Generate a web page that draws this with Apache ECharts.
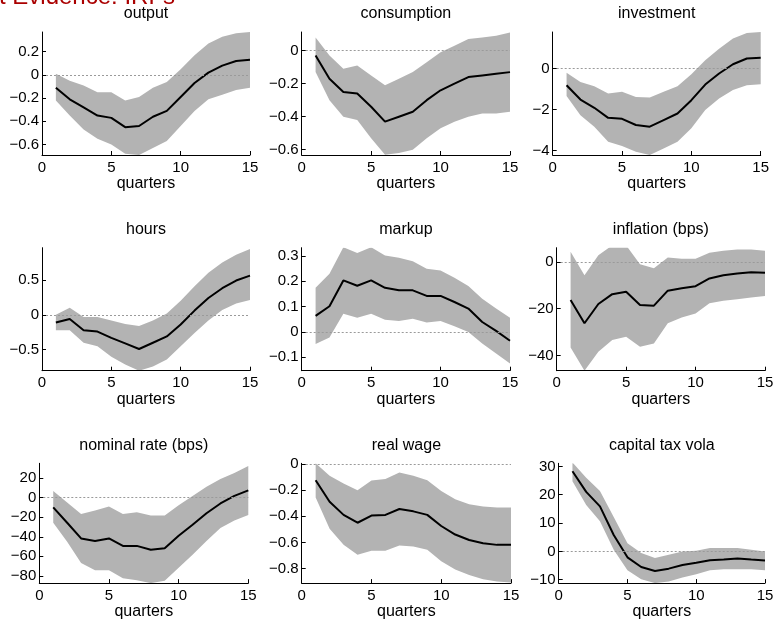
<!DOCTYPE html>
<html><head><meta charset="utf-8">
<script src="https://cdn.jsdelivr.net/npm/echarts@6/dist/echarts.min.js"></script>
<style>html,body{margin:0;padding:0;background:#fff}#c{width:777px;height:621px}</style>
</head><body><div id="c"></div>
<script>
const quarters = [1,2,3,4,5,6,7,8,9,10,11,12,13,14,15];

const outputMean = [-0.11,-0.21,-0.28,-0.35,-0.37,-0.45,-0.44,-0.36,-0.31,-0.19,-0.07,0.02,0.08,0.12,0.13];
const outputLo   = [-0.22,-0.35,-0.47,-0.55,-0.60,-0.68,-0.69,-0.63,-0.57,-0.44,-0.31,-0.21,-0.17,-0.13,-0.11];
const outputHi   = [0.01,-0.05,-0.09,-0.15,-0.15,-0.22,-0.19,-0.11,-0.06,0.05,0.17,0.27,0.33,0.36,0.37];

const consMean = [-0.03,-0.17,-0.25,-0.26,-0.34,-0.43,-0.40,-0.37,-0.30,-0.24,-0.20,-0.16,-0.15,-0.14,-0.13];
const consLo   = [-0.13,-0.30,-0.40,-0.42,-0.53,-0.63,-0.62,-0.60,-0.53,-0.47,-0.43,-0.40,-0.38,-0.38,-0.37];
const consHi   = [0.08,-0.03,-0.11,-0.09,-0.15,-0.21,-0.17,-0.13,-0.07,-0.01,0.03,0.07,0.08,0.09,0.11];

const invMean = [-0.81,-1.51,-1.91,-2.40,-2.45,-2.75,-2.83,-2.51,-2.19,-1.54,-0.78,-0.24,0.21,0.49,0.52];
const invLo   = [-1.34,-2.27,-2.83,-3.56,-3.77,-4.05,-4.21,-3.89,-3.56,-2.91,-2.02,-1.46,-1.05,-0.81,-0.76];
const invHi   = [-0.21,-0.65,-0.86,-1.21,-1.13,-1.38,-1.41,-1.13,-0.86,-0.28,0.40,0.97,1.46,1.73,1.78];

const hoursMean = [-0.11,-0.06,-0.22,-0.24,-0.33,-0.41,-0.49,-0.40,-0.31,-0.14,0.06,0.24,0.38,0.49,0.56];
const hoursLo   = [-0.22,-0.22,-0.40,-0.45,-0.60,-0.71,-0.80,-0.74,-0.64,-0.45,-0.26,-0.08,0.07,0.16,0.21];
const hoursHi   = [0.00,0.10,-0.03,-0.03,-0.08,-0.13,-0.16,-0.08,0.02,0.20,0.41,0.60,0.75,0.86,0.94];

const markupMean = [0.063,0.101,0.203,0.182,0.203,0.174,0.164,0.164,0.142,0.142,0.118,0.092,0.039,0.004,-0.035];
const markupLo   = [-0.048,-0.022,0.072,0.056,0.072,0.048,0.043,0.052,0.037,0.043,0.022,0.000,-0.046,-0.085,-0.125];
const markupHi   = [0.174,0.229,0.334,0.311,0.334,0.301,0.292,0.279,0.249,0.242,0.214,0.181,0.131,0.092,0.056];

const inflMean = [-16.3,-26.2,-18.0,-13.8,-12.8,-18.4,-18.7,-12.3,-11.3,-10.4,-7.1,-5.7,-5.0,-4.5,-4.7];
const inflLo   = [-36.5,-46.4,-38.3,-33.3,-31.9,-36.2,-34.8,-26.2,-23.7,-22.0,-17.7,-16.6,-16.0,-15.2,-14.6];
const inflHi   = [4.3,-5.7,2.8,7.0,7.0,-1.0,-2.8,1.8,1.3,1.3,3.8,4.7,5.2,5.2,4.7];

const rateMean = [-10.0,-25.7,-41.7,-44.3,-41.7,-49.3,-49.3,-53.3,-51.7,-39.0,-27.7,-16.0,-6.0,1.7,7.3];
const rateLo   = [-25.7,-45.0,-66.7,-74.3,-74.3,-82.3,-84.3,-87.3,-85.0,-71.7,-58.3,-44.3,-31.0,-23.3,-17.7];
const rateHi   = [6.7,-5.0,-16.7,-13.3,-9.0,-16.7,-15.0,-18.3,-18.3,-7.7,1.7,11.0,19.0,25.0,32.3];

const wageMean = [-0.125,-0.289,-0.389,-0.449,-0.394,-0.389,-0.344,-0.362,-0.389,-0.474,-0.539,-0.581,-0.606,-0.618,-0.618];
const wageLo   = [-0.257,-0.494,-0.618,-0.693,-0.663,-0.663,-0.623,-0.631,-0.656,-0.743,-0.806,-0.848,-0.880,-0.898,-0.905];
const wageHi   = [0.005,-0.090,-0.150,-0.200,-0.127,-0.115,-0.065,-0.090,-0.125,-0.207,-0.269,-0.307,-0.324,-0.332,-0.332];

const taxMean = [28.3,21.0,15.9,5.8,-2.1,-5.5,-6.9,-6.1,-4.8,-4.0,-3.1,-2.9,-2.5,-2.9,-3.2];
const taxLo   = [24.8,16.4,10.6,0.6,-6.7,-9.8,-11.2,-10.6,-9.2,-8.1,-6.7,-6.3,-6.3,-6.3,-6.7];
const taxHi   = [31.4,26.0,21.3,12.1,2.9,-0.6,-2.3,-1.2,0.0,0.2,1.2,1.2,1.2,0.6,0.0];

const panelTitles = ['output','consumption','investment','hours','markup','inflation (bps)','nominal rate (bps)','real wage','capital tax vola'];
const xTicks = [0,5,10,15];
const xLabel = 'quarters';
const yTickValues = [
  [-0.6,-0.4,-0.2,0,0.2],
  [-0.6,-0.4,-0.2,0],
  [-4,-2,0],
  [-0.5,0,0.5],
  [-0.1,0,0.1,0.2,0.3],
  [-40,-20,0],
  [-80,-60,-40,-20,0,20],
  [-0.8,-0.6,-0.4,-0.2,0],
  [-10,0,10,20,30]
];
const yLimits = [
  [-0.69,0.37],[-0.632,0.113],[-4.21,1.78],
  [-0.80,0.96],[-0.153,0.332],[-46.4,6.0],
  [-87.3,35],[-0.91,0.005],[-11.2,31.1]
];
const slideTitle = 't Evidence: IRFs';

const means = [outputMean,consMean,invMean,hoursMean,markupMean,inflMean,rateMean,wageMean,taxMean];
const lows  = [outputLo,consLo,invLo,hoursLo,markupLo,inflLo,rateLo,wageLo,taxLo];
const highs = [outputHi,consHi,invHi,hoursHi,markupHi,inflHi,rateHi,wageHi,taxHi];

// layout (pixel boxes of the plot areas)
const boxes = [
  [42,32,208,123],[301.7,32,208.3,123],[552.7,32,208,123],
  [42,247.7,208,123],[301.7,247.7,208.3,123],[556.7,247.7,208.3,123],
  [39.3,463.3,209,122.4],[301.7,463.3,209.3,122.4],[558.7,463.3,206.3,122.4]
];

const FONT = 'Liberation Sans, Arial, Helvetica, sans-serif';
const fmt = v => String(v).replace('-', '\u2212');

function bandRender(params, api) {
  if (params.dataIndexInside !== 0) return null;
  const n = params.dataInsideLength;
  const top = [], bot = [];
  for (let k = 0; k < n; k++) {
    top.push(api.coord([api.value(0, k), api.value(2, k)]));
    bot.push(api.coord([api.value(0, k), api.value(1, k)]));
  }
  return {type: 'polygon', shape: {points: top.concat(bot.reverse())}, style: {fill: '#b3b3b3'}};
}

const grid = [], xAxis = [], yAxis = [], series = [], title = [];
boxes.forEach((b, i) => {
  grid.push({left: b[0], top: b[1], width: b[2], height: b[3], containLabel: false});
  title.push({
    text: panelTitles[i], left: b[0] + b[2] / 2, top: b[1] - 26, textAlign: 'center', padding: 0,
    textStyle: {fontFamily: FONT, fontSize: 16, fontWeight: 'normal', color: '#000'}
  });
  xAxis.push({
    type: 'value', gridIndex: i, min: 0, max: 15, interval: 5, z: 10,
    name: xLabel, nameLocation: 'middle', nameGap: 19,
    nameTextStyle: {fontFamily: FONT, fontSize: 16, color: '#000'},
    axisLine: {show: true, onZero: false, lineStyle: {color: '#000', width: 1}},
    axisTick: {show: true, inside: true, length: 4, lineStyle: {color: '#000'}, customValues: xTicks},
    axisLabel: {fontFamily: FONT, fontSize: 15, color: '#000', margin: 5, customValues: xTicks, formatter: fmt},
    splitLine: {show: false}
  });
  yAxis.push({
    type: 'value', gridIndex: i, min: yLimits[i][0], max: yLimits[i][1], z: 10,
    axisLine: {show: true, onZero: false, lineStyle: {color: '#000', width: 1}},
    axisTick: {show: true, inside: true, length: 4, lineStyle: {color: '#000'}, customValues: yTickValues[i]},
    axisLabel: {fontFamily: FONT, fontSize: 15, color: '#000', margin: 3, customValues: yTickValues[i], formatter: fmt},
    splitLine: {show: false}
  });
  series.push({
    type: 'custom', xAxisIndex: i, yAxisIndex: i, clip: true, silent: true, z: 1,
    data: quarters.map((q, k) => [q, lows[i][k], highs[i][k]]),
    encode: {x: 0, y: [1, 2]},
    renderItem: bandRender
  });
  series.push({
    type: 'line', xAxisIndex: i, yAxisIndex: i,
    data: quarters.map((q, k) => [q, means[i][k]]),
    symbol: 'none', silent: true, lineStyle: {color: '#000', width: 2}, z: 3,
    markLine: {
      silent: true, symbol: ['none', 'none'], label: {show: false},
      lineStyle: {color: '#9a9a9a', width: 1, type: [2, 2]},
      data: [{yAxis: 0}]
    }
  });
});

const chart = echarts.init(document.getElementById('c'), null, {renderer: 'canvas'});
chart.setOption({
  animation: false,
  backgroundColor: '#fff',
  title, grid, xAxis, yAxis, series,
  graphic: [{
    type: 'text', left: -1, top: -15, silent: true,
    style: {text: slideTitle, fontFamily: FONT, fontSize: 24, fill: '#aa0000'}
  }]
});
</script></body></html>
